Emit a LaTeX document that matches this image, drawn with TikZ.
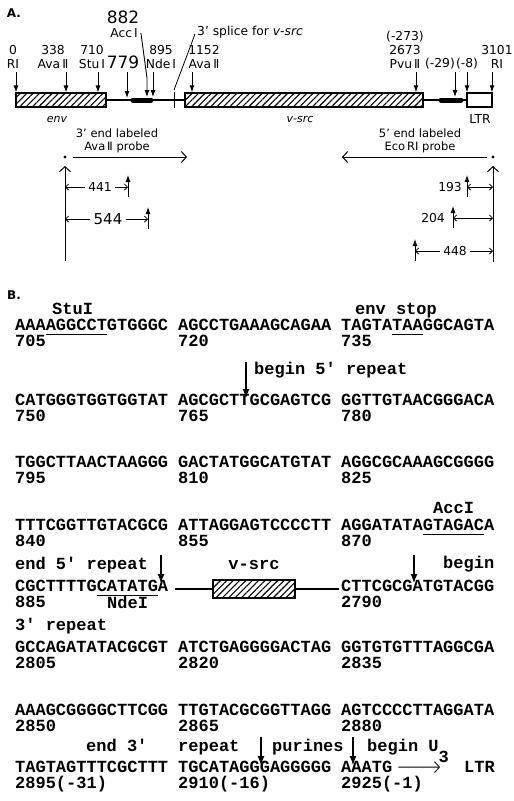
\documentclass[tikz,border=0pt]{standalone}
\usepackage{fontspec}
\setmainfont{DejaVu Sans}
\newfontfamily\seqfont{Liberation Mono}
\usetikzlibrary{arrows.meta, patterns.meta, positioning}

\def\chw{10.2pt}

\begin{document}
\begin{tikzpicture}[
  x=1pt, y=-1pt,
  site/.style={font=\fontsize{12.3}{14}\selectfont, align=center, inner sep=0pt},
  probetext/.style={font=\fontsize{11.5}{13.5}\selectfont, align=center, inner sep=0pt},
  bignum/.style={font=\fontsize{17}{18}\selectfont, inner sep=0pt},
  cut/.style={-{Latex[length=7pt,width=5pt]}, line width=0.9pt},
  gene/.style={draw, line width=1.4pt, inner sep=0pt, pattern={Lines[angle=45,distance=4.5pt,line width=1.1pt]}},
  probe/.style={-{Straight Barb[length=5pt,width=11pt]}, line width=1pt},
  dim/.style={-{Straight Barb[length=3pt,width=6pt]}, line width=0.8pt},
  dimboth/.style={{Straight Barb[length=3pt,width=6pt]}-{Straight Barb[length=3pt,width=6pt]}, line width=0.8pt},
  seq/.style={font=\seqfont\bfseries\fontsize{17}{18}\selectfont, anchor=mid west, inner sep=0pt},
  uline/.style={line width=1pt},
  darr/.style={-{Latex[length=9pt,width=7pt]}, line width=1.1pt}
]
\useasboundingbox (0,0) rectangle (514,801);

% ---- A: map of the provirus
\node[font=\bfseries\fontsize{12}{14}\selectfont] (labA) at (14,13) {A.};

\node[gene, minimum width=90pt, minimum height=14pt] (env) at (61,100) {};
\node[gene, minimum width=238pt, minimum height=14pt] (vsrc) at (304,100) {};
\node[draw, line width=1.4pt, fill=white, inner sep=0pt, minimum width=25pt, minimum height=14pt] (ltr) at (479.5,100) {};
\draw[line width=1.4pt] (env.east) -- (vsrc.west);
\draw[line width=1.4pt] (vsrc.east) -- (ltr.west);
\coordinate (seg1) at (142,100);
\coordinate (seg2) at (451,100);
\draw[line width=5pt, line cap=round] ([xshift=-9pt]seg1) -- ([xshift=9pt]seg1);
\draw[line width=5pt, line cap=round] ([xshift=-10pt]seg2) -- ([xshift=10pt]seg2);
\coordinate (splice) at (174,100);
\draw[line width=0.9pt] ([yshift=8pt]splice) -- ([yshift=-8pt]splice);

\node[site] (ri0) at (13,57) {0\\RI};
\node[site] (ava1) at (53,57) {338\\Ava\,Ⅱ};
\node[site] (stu) at (92,57) {710\\Stu\,I};
\node[bignum] (n779) at (123,62) {779};
\node[bignum] (n882) at (123,17) {882};
\node[site] (acc) at (124,33) {Acc\,I};
\node[site] (nde) at (161,57) {895\\Nde\,I};
\node[site] (ava2) at (204,57) {1152\\Ava\,Ⅱ};
\node[site, anchor=west] (splicelab) at (197,32) {3\textquoteright{} splice for \textit{v-src}};
\node[site] (pvu) at (405,50) {(-273)\\2673\\Pvu\,Ⅱ};
\node[site] (m29) at (440,64) {(-29)};
\node[site] (m8) at (467,64) {(-8)};
\node[site] (ri3101) at (497,57) {3101\\RI};
\node[site, font=\itshape\fontsize{11}{13}\selectfont] (envlab) at (57,119) {env};
\node[site, font=\itshape\fontsize{11}{13}\selectfont] (vsrclab) at (300,119) {v-src};
\node[site] (ltrlab) at (480,119) {LTR};

\coordinate (c0) at (16,72);
\draw[cut] (c0) -- (c0 |- env.north);
\coordinate (c338) at (66,72);
\draw[cut] (c338) -- (c338 |- env.north);
\coordinate (c710) at (98,72);
\draw[cut] (c710) -- (c710 |- env.north);
\coordinate (c779) at (127,72);
\draw[cut] (c779) -- ([yshift=2pt]c779 |- seg1);
\draw[cut] ([xshift=3pt]acc.east) -- ([xshift=5pt,yshift=22pt]seg1) -- ([xshift=5pt,yshift=3pt]seg1);
\coordinate (c895) at (153,72);
\draw[cut] (c895) -- ([xshift=11pt,yshift=3pt]seg1);
\coordinate (c1152) at (192,72);
\draw[cut] (c1152) -- (c1152 |- vsrc.north);
\draw[line width=0.8pt] ([xshift=-2pt,yshift=-2pt]splicelab.west) -- ([yshift=10pt]splice);
\coordinate (c2673) at (416,72);
\draw[cut] (c2673) -- (c2673 |- vsrc.north);
\coordinate (c29) at (455,72);
\draw[cut] (c29) -- ([xshift=4pt,yshift=3pt]seg2);
\coordinate (c8) at (467,72);
\draw[cut] (c8) -- (c8 |- ltr.north);
\coordinate (c3101) at (492,72);
\draw[cut] (c3101) -- (c3101 |- ltr.north);

% probes
\node[probetext] (avaprobe) at (117,141) {3\textquoteright{} end labeled\\Ava\,Ⅱ probe};
\node[circle, fill, inner sep=1.1pt] (dotL) at (65,157) {};
\coordinate (avatip) at (187,157);
\coordinate (avabase) at (65,261);
\draw[probe] ([xshift=8pt]dotL.center) -- (avatip);
\draw[probe] (avabase) -- ([yshift=-9pt]dotL.center);

\node[site] (d441) at (100,187) {441};
\coordinate (k441) at (128,187);
\draw[dim] ([xshift=-3pt]d441.west) -- (d441.west -| avabase);
\draw[dim] ([xshift=3pt]d441.east) -- (k441);
\draw[cut] ([yshift=-10pt]k441) -- ([yshift=12pt]k441);

\node[site, font=\fontsize{15}{16}\selectfont] (d544) at (108,219) {544};
\coordinate (k544) at (148,219);
\draw[dim] ([xshift=-3pt]d544.west) -- (d544.west -| avabase);
\draw[dim] ([xshift=3pt]d544.east) -- (k544);
\draw[cut] ([yshift=-10pt]k544) -- ([yshift=12pt]k544);

\node[probetext] (ecoprobe) at (420,141) {5\textquoteright{} end labeled\\Eco\,RI probe};
\node[circle, fill, inner sep=1.1pt] (dotR) at (493,157) {};
\coordinate (ecotip) at (342,157);
\coordinate (ecobase) at (493,262);
\draw[probe] ([xshift=-6pt]dotR.center) -- (ecotip);
\draw[probe] (ecobase) -- ([yshift=-9pt]dotR.center);

\node[site] (d193) at (450,187) {193};
\coordinate (k193) at (467,187);
\draw[dimboth] (k193) -- (k193 -| ecobase);
\draw[cut] ([yshift=-10pt]k193) -- ([yshift=12pt]k193);

\node[site] (d204) at (433,218) {204};
\coordinate (k204) at (453,218);
\draw[dimboth] (k204) -- (k204 -| ecobase);
\draw[cut] ([yshift=-10pt]k204) -- ([yshift=12pt]k204);

\node[site] (d448) at (455,251) {448};
\coordinate (k448) at (415,251);
\draw[dim] ([xshift=-3pt]d448.west) -- (k448);
\draw[dim] ([xshift=3pt]d448.east) -- (d448.east -| ecobase);
\draw[cut] ([yshift=-10pt]k448) -- ([yshift=12pt]k448);

% ---- B: sequence
\node[font=\bfseries\fontsize{12}{14}\selectfont] (labB) at (14,295) {B.};

\foreach \y/\sa/\sb/\sc/\na/\nb/\nc [count=\r] in {
  328/AAAAGGCCTGTGGGC/AGCCTGAAAGCAGAA/TAGTATAAGGCAGTA/705/720/735,
  403/CATGGGTGGTGGTAT/AGCGCTTGCGAGTCG/GGTTGTAACGGGACA/750/765/780,
  465/TGGCTTAACTAAGGG/GACTATGGCATGTAT/AGGCGCAAAGCGGGG/795/810/825,
  528/TTTCGGTTGTACGCG/ATTAGGAGTCCCCTT/AGGATATAGTAGACA/840/855/870,
  650/GCCAGATATACGCGT/ATCTGAGGGGACTAG/GGTGTGTTTAGGCGA/2805/2820/2835,
  713/AAAGCGGGGCTTCGG/TTGTACGCGGTTAGG/AGTCCCCTTAGGATA/2850/2865/2880}
{
  \node[seq] (row\r-1) at (15,\y) {\sa};
  \node[seq] (row\r-2) at (178,\y) {\sb};
  \node[seq] (row\r-3) at (341,\y) {\sc};
  \node[seq] (num\r-1) at (15,\y+16) {\na};
  \node[seq] (num\r-2) at (178,\y+16) {\nb};
  \node[seq] (num\r-3) at (341,\y+16) {\nc};
}

% StuI and env stop
\node[seq] (stulab) at (52,312) {StuI};
\node[seq] (envstop) at (355,312) {env stop};
\draw[uline] ([xshift=3*\chw, yshift=-3.5pt]row1-1.base west) -- ([xshift=9*\chw, yshift=-3.5pt]row1-1.base west);
\draw[uline] ([xshift=5*\chw, yshift=-3.5pt]row1-3.base west) -- ([xshift=8*\chw, yshift=-3.5pt]row1-3.base west);

% begin 5' repeat
\coordinate (b5) at (246,362);
\draw[darr] (b5) -- ++(0,36);
\node[seq] (begin5) at (254,372) {begin 5\textquotesingle{} repeat};

% AccI
\node[seq] (acclab) at (433,511) {AccI};
\draw[uline] ([xshift=8*\chw, yshift=-3.5pt]row4-3.base west) -- ([xshift=14*\chw, yshift=-3.5pt]row4-3.base west);

% junction env -- v-src -- LTR
\node[seq] (end5) at (15,567) {end 5\textquotesingle{} repeat};
\node[seq] (row5-1) at (15,589) {CGCTTTTGCATATGA};
\node[seq] (row5-3) at (341,589) {CTTCGCGATGTACGG};
\node[seq] (num5-1) at (15,605) {885};
\node[seq] (num5-3) at (341,605) {2790};
\node[seq] (ndelab) at (107,606) {NdeI};
\draw[uline] ([xshift=8*\chw, yshift=-3.5pt]row5-1.base west) -- ([xshift=14*\chw, yshift=-3.5pt]row5-1.base west);
\node[gene, line width=1.6pt, minimum width=82pt, minimum height=18pt] (vsrcB) at (254,589) {};
\node[seq, anchor=mid] (vsrcBlab) at (254,567) {v-src};
\draw[line width=2.4pt] ([xshift=7pt]vsrcB.west -| row5-1.east) -- (vsrcB.west);
\draw[line width=2.4pt] (vsrcB.east) -- ([xshift=-2pt]vsrcB.east -| row5-3.west);
\coordinate (e5) at (161,555);
\draw[darr] (e5) -- ++(0,28);
\coordinate (b3) at (414,555);
\draw[darr] (b3) -- ++(0,28);
\node[seq, anchor=mid east] (begin3) at (row5-3.east |- end5) {begin};
\node[seq] (rep3) at (15,628) {3\textquotesingle{} repeat};

% end of 3' repeat, purines, U3
\node[seq] (end3) at (86,749) {end 3\textquotesingle};
\node[seq] (rep3b) at (178,749) {repeat};
\coordinate (p1) at (261,737);
\draw[darr] (p1) -- ++(0,28);
\node[seq] (purin) at (272,749) {purines};
\coordinate (p2) at (353,737);
\draw[darr] (p2) -- ++(0,28);
\node[seq] (beginU) at (367,749) {begin U\raisebox{-11pt}{3}};
\node[seq] (row8-1) at (15,770) {TAGTAGTTTCGCTTT};
\node[seq] (row8-2) at (178,770) {TGCATAGGGAGGGGG};
\node[seq] (row8-3) at (341,770) {AAATG};
\node[seq] (ltrB) at (464,770) {LTR};
\draw[-{Straight Barb[length=5pt,width=11pt]}, line width=0.8pt] ([xshift=6pt]row8-3.east) -- ([xshift=-24pt]ltrB.west);
\node[seq] (num8-1) at (15,786) {2895(-31)};
\node[seq] (num8-2) at (178,786) {2910(-16)};
\node[seq] (num8-3) at (341,786) {2925(-1)};
\end{tikzpicture}
\end{document}
